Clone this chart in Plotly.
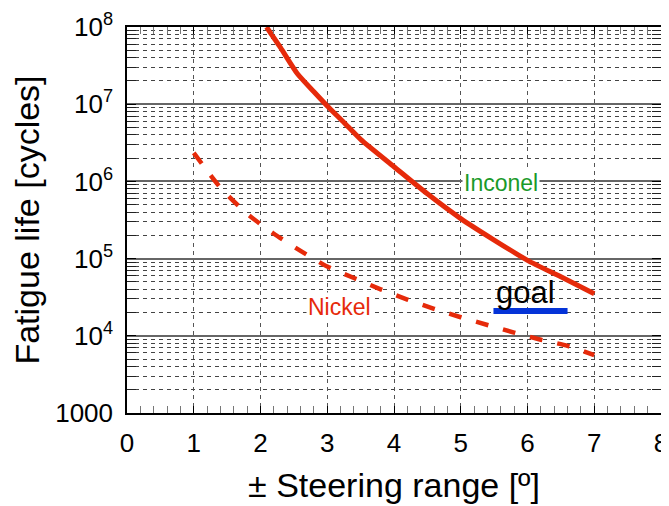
import plotly.graph_objects as go

# Inconel fatigue life (solid)
inconel_x = [2.09, 2.3, 2.55, 2.8, 3.0, 3.25, 3.5, 4.0, 4.5, 5.0, 5.5, 6.0, 6.5, 7.0]
inconel_y = [1.0e8, 5.4e7, 2.5e7, 1.45e7, 9.5e6, 5.8e6, 3.5e6, 1.55e6, 6.9e5, 3.3e5, 1.74e5, 9.5e4, 5.8e4, 3.5e4]

# Nickel fatigue life (dashed)
nickel_x = [1.0, 1.4, 1.8, 2.2, 2.6, 3.0, 3.4, 3.8, 4.2, 4.6, 5.0, 5.4, 5.8, 6.2, 6.6, 7.0]
nickel_y = [2.34e6, 8.3e5, 3.8e5, 2.1e5, 1.26e5, 7.9e4, 5.6e4, 4.0e4, 2.95e4, 2.24e4,
            1.74e4, 1.38e4, 1.10e4, 8.9e3, 7.4e3, 5.6e3]

# Goal
goal_x = [5.49, 6.60]
goal_y = [2.1e4, 2.1e4]

y_tickvals = [1e3, 1e4, 1e5, 1e6, 1e7, 1e8]
y_ticktext = ["1000", "10<sup>4</sup>", "10<sup>5</sup>", "10<sup>6</sup>", "10<sup>7</sup>", "10<sup>8</sup>"]
x_tickvals = [0, 1, 2, 3, 4, 5, 6, 7, 8]

FONT = "Liberation Sans, Arial, Helvetica, sans-serif"
RED = "#e62a0a"

fig = go.Figure()
fig.add_trace(go.Scatter(x=inconel_x, y=inconel_y, mode="lines",
                         line=dict(color=RED, width=5, shape="spline", smoothing=0.6),
                         showlegend=False))
fig.add_trace(go.Scatter(x=nickel_x, y=nickel_y, mode="lines",
                         line=dict(color=RED, width=4.5, dash="13px,15px", shape="spline", smoothing=0.6),
                         showlegend=False))
fig.add_trace(go.Scatter(x=goal_x, y=goal_y, mode="lines",
                         line=dict(color="#0433d8", width=6),
                         showlegend=False))

fig.add_annotation(x=5.61, y=5.98, text="Inconel", showarrow=False,
                   font=dict(family=FONT, size=23, color="#1a9a2a"), bgcolor="white")
fig.add_annotation(x=3.18, y=4.37, text="Nickel", showarrow=False,
                   font=dict(family=FONT, size=23, color=RED), bgcolor="white")
fig.add_annotation(x=5.97, y=4.56, text="goal", showarrow=False,
                   font=dict(family=FONT, size=31, color="black"))

# the page body adds an 8px offset, so the figure is sized to fit the window
fig.update_layout(
    width=661, height=498,
    margin=dict(l=119, r=8, t=19, b=93),
    paper_bgcolor="white", plot_bgcolor="white",
    font=dict(family=FONT, size=26, color="black"),
)
fig.update_xaxes(
    range=[0, 8], tickvals=x_tickvals, automargin=False,
    showgrid=True, gridcolor="#555555", griddash="4px,4px", gridwidth=1,
    ticks="inside", ticklen=7, tickcolor="black", ticklabelstandoff=6,
    showline=True, linecolor="black", linewidth=1.5, mirror="allticks",
    minor=dict(dtick=0.2, ticks="inside", ticklen=7, tickcolor="#777777", showgrid=False),
    zeroline=False,
    title=dict(text="± Steering range [º]", font=dict(size=34), standoff=16),
    tickfont=dict(size=26),
)
fig.update_yaxes(
    type="log", range=[3, 8], tickvals=y_tickvals, ticktext=y_ticktext, automargin=False,
    showgrid=True, gridcolor="#666666", gridwidth=1.5,
    ticks="inside", ticklen=9, tickcolor="black", ticklabelstandoff=7,
    showline=True, linecolor="black", linewidth=1.5, mirror="allticks",
    minor=dict(dtick="D1", ticks="inside", ticklen=9, tickcolor="#222222",
               showgrid=True, gridcolor="#444444", griddash="4px,4px", gridwidth=1),
    zeroline=False,
    title=dict(text="Fatigue life [cycles]", font=dict(size=34), standoff=5),
    tickfont=dict(size=26),
)

fig.write_html("out.html")
